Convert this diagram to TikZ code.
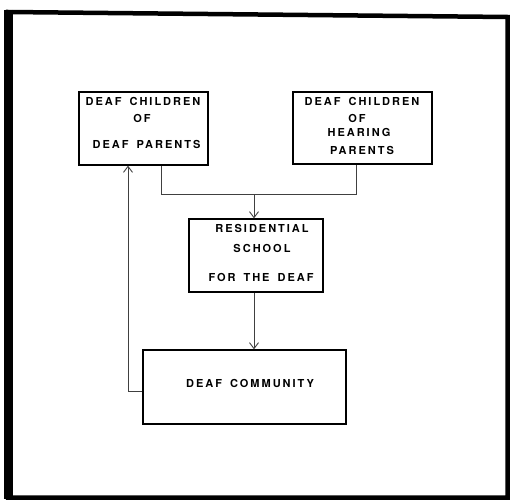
\documentclass[tikz,border=0pt]{standalone}
\usepackage{fontspec}
\setmainfont{TeX Gyre Heros}[LetterSpace=18, WordSpace=1.6, BoldFont={* Bold}, BoldFeatures={LetterSpace=18, WordSpace=1.6}]
\usetikzlibrary{arrows.meta}
\tikzset{
  box/.style={draw=black, line width=1.3pt, inner sep=0pt},
  lbl/.style={inner sep=0pt, font=\fontsize{11}{12}\selectfont\bfseries, anchor=center},
  conn/.style={draw=black!75, line width=0.9pt},
  arr/.style={conn, -{Straight Barb[length=6pt,width=9pt,line width=0.9pt]}},
}
\begin{document}
\begin{tikzpicture}[x=1pt,y=-1pt]
\useasboundingbox (0,0) rectangle (512,503);
% outer frame
\draw[line width=4.5pt, line join=miter] (8,12) -- (507.5,17) -- (507.5,497.5) -- (8,497.5) -- cycle;
\draw[line width=9pt] (8,10) -- (8,499);

% boxes
\node[box, minimum width=129pt, minimum height=73pt] (b1) at (143.5,128.5) {};
\node[box, minimum width=139pt, minimum height=72pt] (b2) at (362.5,128) {};
\node[box, minimum width=134pt, minimum height=73pt] (b3) at (256,255.5) {};
\node[box, minimum width=203pt, minimum height=74pt] (b4) at (244.5,387) {};

% labels
\node[lbl] (t11) at (143,101) {DEAF CHILDREN};
\node[lbl] (t12) at (142,118) {OF};
\node[lbl] (t13) at (146.5,144) {DEAF PARENTS};
\node[lbl] (t21) at (362,101) {DEAF CHILDREN};
\node[lbl] (t22) at (357,118) {OF};
\node[lbl] (t23) at (359,132) {HEARING};
\node[lbl] (t24) at (362,150) {PARENTS};
\node[lbl] (t31) at (262,228) {RESIDENTIAL};
\node[lbl] (t32) at (262,248) {SCHOOL};
\node[lbl] (t33) at (261,277) {FOR THE DEAF};
\node[lbl] (t41) at (250,383) {DEAF COMMUNITY};

% connectors
\coordinate (j1) at (161,194);
\coordinate (j2) at (356,194);
\coordinate (m) at (254,194);
\coordinate (fb) at (128,391);
\draw[conn] (j1 |- b1.south) -- (j1) -- (j2) -- (j2 |- b2.south);
\draw[arr] (m) -- (m |- b3.north);
\draw[arr] (m |- b3.south) -- (m |- b4.north);
\draw[arr] (b4.west |- fb) -- (fb) -- (fb |- b1.south);
\end{tikzpicture}
\end{document}
